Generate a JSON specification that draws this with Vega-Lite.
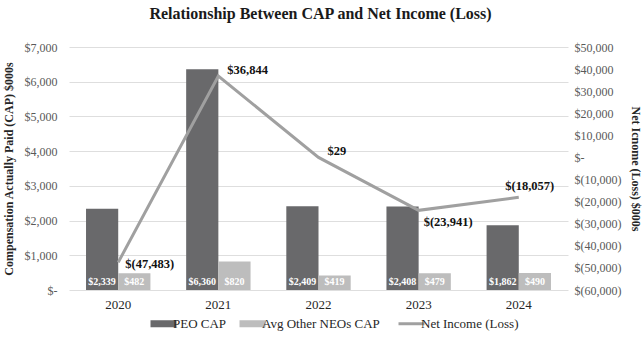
{
  "$schema": "https://vega.github.io/schema/vega-lite/v6.json",
  "width": 499,
  "height": 243,
  "autosize": {"type": "none"},
  "padding": {"left": 69, "top": 47, "right": 74, "bottom": 53},
  "background": "white",
  "title": {
    "text": "Relationship Between CAP and Net Income (Loss)",
    "font": "Liberation Serif",
    "fontSize": 16,
    "fontWeight": "bold",
    "color": "#1a1a1a",
    "anchor": "middle",
    "offset": 19,
    "dx": 2
  },
  "config": {
    "font": "Liberation Serif",
    "view": {"stroke": null},
    "axis": {
      "labelFont": "Liberation Serif",
      "labelFontSize": 12,
      "labelColor": "#595959",
      "labelOverlap": false,
      "titleFont": "Liberation Serif",
      "titleFontSize": 12,
      "titleFontWeight": "bold",
      "titleColor": "#262626",
      "domain": false,
      "ticks": false
    }
  },
  "datasets": {
    "cap": [
      {"year": "2020", "series": "PEO CAP", "value": 2339},
      {"year": "2020", "series": "Avg Other NEOs CAP", "value": 482},
      {"year": "2021", "series": "PEO CAP", "value": 6360},
      {"year": "2021", "series": "Avg Other NEOs CAP", "value": 820},
      {"year": "2022", "series": "PEO CAP", "value": 2409},
      {"year": "2022", "series": "Avg Other NEOs CAP", "value": 419},
      {"year": "2023", "series": "PEO CAP", "value": 2408},
      {"year": "2023", "series": "Avg Other NEOs CAP", "value": 479},
      {"year": "2024", "series": "PEO CAP", "value": 1862},
      {"year": "2024", "series": "Avg Other NEOs CAP", "value": 490}
    ],
    "ni": [
      {"year": "2020", "series": "Net Income (Loss)", "value": -47483},
      {"year": "2021", "series": "Net Income (Loss)", "value": 36844},
      {"year": "2022", "series": "Net Income (Loss)", "value": 29},
      {"year": "2023", "series": "Net Income (Loss)", "value": -23941},
      {"year": "2024", "series": "Net Income (Loss)", "value": -18057}
    ]
  },
  "encoding": {
    "x": {
      "field": "year",
      "type": "nominal",
      "scale": {"paddingInner": 0.357, "paddingOuter": 0.17},
      "axis": {"title": null, "labelAngle": 0, "labelPadding": 8, "labelColor": "#262626", "labelFontSize": 13, "grid": false}
    }
  },
  "layer": [
    {
      "data": {"name": "cap"},
      "encoding": {
        "xOffset": {"field": "series", "type": "nominal", "sort": ["PEO CAP", "Avg Other NEOs CAP"], "scale": {"paddingInner": 0}}
      },
      "layer": [
        {
          "mark": {"type": "bar"},
          "encoding": {
            "y": {
              "field": "value",
              "type": "quantitative",
              "scale": {"domain": [0, 7000], "nice": false},
              "axis": {
                "title": "Compensation Actually Paid (CAP) $000s",
                "values": [0, 1000, 2000, 3000, 4000, 5000, 6000, 7000],
                "grid": true,
                "gridColor": "#dedede",
                "gridWidth": 1,
                "labelPadding": 12,
                "titlePadding": 9,
                "labelExpr": "datum.value == 0 ? '$-' : '$' + format(datum.value, ',')"
              }
            },
            "color": {
              "field": "series",
              "type": "nominal",
              "scale": {
                "domain": ["PEO CAP", "Avg Other NEOs CAP", "Net Income (Loss)"],
                "range": ["#69696b", "#bdbdbd", "#a0a0a0"]
              },
              "legend": {
                "title": null,
                "orient": "none",
                "direction": "horizontal",
                "legendX": 88,
                "legendY": 270,
                "labelFont": "Liberation Serif",
                "labelFontSize": 13,
                "labelColor": "#262626",
                "labelOffset": 3,
                "columnPadding": 12,
                "symbolSize": 676,
                "symbolStrokeWidth": 0,
                "encode": {
                  "symbols": {
                    "update": {
                      "shape": {"signal": "datum.value === 'Net Income (Loss)' ? 'M-1,0H1' : 'M-1,-0.27H1V0.27H-1Z'"},
                      "fill": {"signal": "datum.value === 'PEO CAP' ? '#69696b' : (datum.value === 'Avg Other NEOs CAP' ? '#bdbdbd' : 'transparent')"},
                      "stroke": {"signal": "datum.value === 'Net Income (Loss)' ? '#a0a0a0' : 'transparent'"},
                      "strokeWidth": {"signal": "datum.value === 'Net Income (Loss)' ? 3 : 0"},
                      "opacity": {"value": 1}
                    }
                  }
                }
              }
            }
          }
        },
        {
          "mark": {"type": "text", "color": "white", "fontWeight": "bold", "fontSize": 10, "baseline": "bottom", "dy": -3},
          "encoding": {
            "y": {
              "datum": 0,
              "type": "quantitative",
              "axis": {
                "title": "Compensation Actually Paid (CAP) $000s",
                "values": [0, 1000, 2000, 3000, 4000, 5000, 6000, 7000],
                "grid": true,
                "gridColor": "#dedede",
                "gridWidth": 1,
                "labelPadding": 12,
                "titlePadding": 9,
                "labelExpr": "datum.value == 0 ? '$-' : '$' + format(datum.value, ',')"
              }
            },
            "text": {"field": "value", "type": "quantitative", "format": "$,"}
          }
        }
      ]
    },
    {
      "data": {"name": "ni"},
      "encoding": {
        "y": {
          "field": "value",
          "type": "quantitative",
          "scale": {"domain": [-60000, 50000], "nice": false},
          "axis": {
            "orient": "right",
            "title": "Net Icnome (Loss) $000s",
            "values": [-60000, -50000, -40000, -30000, -20000, -10000, 0, 10000, 20000, 30000, 40000, 50000],
            "grid": false,
            "labelPadding": 6,
            "titlePadding": 8,
            "labelExpr": "datum.value == 0 ? '$-' : (datum.value < 0 ? '$(' + format(-datum.value, ',') + ')' : '$' + format(datum.value, ','))"
          }
        }
      },
      "layer": [
        {
          "mark": {"type": "line", "strokeWidth": 3, "color": "#a0a0a0"},
          "encoding": {
            "color": {"field": "series", "type": "nominal"}
          }
        },
        {
          "transform": [{"filter": "datum.year == '2020'"}],
          "mark": {"type": "text", "fontWeight": "bold", "fontSize": 12.5, "color": "#111", "align": "left", "baseline": "middle", "dx": 7, "dy": 2,
            "text": {"expr": "datum.value < 0 ? '$(' + format(-datum.value, ',') + ')' : '$' + format(datum.value, ',')"}},
          "encoding": {}
        },
        {
          "transform": [{"filter": "datum.year == '2021' || datum.year == '2022'"}],
          "mark": {"type": "text", "fontWeight": "bold", "fontSize": 12.5, "color": "#111", "align": "left", "baseline": "middle", "dx": 9, "dy": -6,
            "text": {"expr": "datum.value < 0 ? '$(' + format(-datum.value, ',') + ')' : '$' + format(datum.value, ',')"}},
          "encoding": {}
        },
        {
          "transform": [{"filter": "datum.year == '2023'"}],
          "mark": {"type": "text", "fontWeight": "bold", "fontSize": 12.5, "color": "#111", "align": "left", "baseline": "middle", "dx": 5, "dy": 12,
            "text": {"expr": "datum.value < 0 ? '$(' + format(-datum.value, ',') + ')' : '$' + format(datum.value, ',')"}},
          "encoding": {}
        },
        {
          "transform": [{"filter": "datum.year == '2024'"}],
          "mark": {"type": "text", "fontWeight": "bold", "fontSize": 12.5, "color": "#111", "align": "center", "baseline": "middle", "dx": 11, "dy": -11,
            "text": {"expr": "datum.value < 0 ? '$(' + format(-datum.value, ',') + ')' : '$' + format(datum.value, ',')"}},
          "encoding": {}
        }
      ]
    }
  ],
  "resolve": {"scale": {"y": "independent"}}
}
